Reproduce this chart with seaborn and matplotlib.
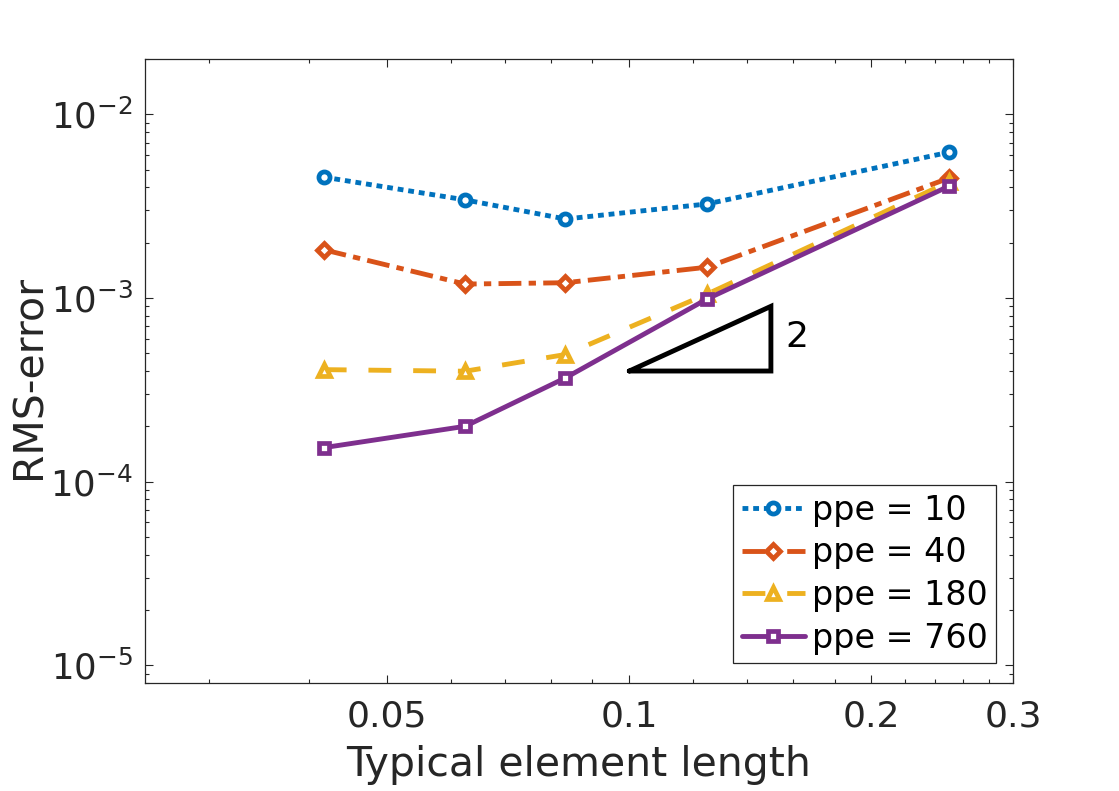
import numpy as np
import pandas as pd
import matplotlib
matplotlib.use("Agg")
import matplotlib.pyplot as plt
import seaborn as sns

# element sizes and RMS errors
h = [0.0417, 0.0625, 0.0833, 0.125, 0.25]
ppe10 = [4.55e-3, 3.42e-3, 2.69e-3, 3.25e-3, 6.22e-3]
ppe40 = [1.83e-3, 1.19e-3, 1.21e-3, 1.47e-3, 4.50e-3]
ppe180 = [4.07e-4, 3.99e-4, 4.92e-4, 1.05e-3, 4.29e-3]
ppe760 = [1.53e-4, 2.00e-4, 3.67e-4, 9.88e-4, 4.07e-3]
labels = ['ppe = 10', 'ppe = 40', 'ppe = 180', 'ppe = 760']

# slope-2 reference triangle
tri_x = [0.1, 0.15, 0.15, 0.1]
tri_y = [4e-4, 4e-4, 9e-4, 4e-4]

colors = ['#0072BD', '#D95319', '#EDB120', '#7E2F8E']
markers = ['o', 'D', '^', 's']
msizes = [8, 7, 8, 7.5]
dashes = [(1.2, 1.0), (4.7, 1.5, 1.5, 1.5), (4.7, 4.5), None]

sns.set_style('ticks')
plt.rcParams['font.family'] = ['DejaVu Sans']
plt.rcParams['axes.unicode_minus'] = False

fig = plt.figure(figsize=(11.19, 7.91), dpi=100)
ax = fig.add_axes([0.1296, 0.1365, 0.9053 - 0.1296, 0.9254 - 0.1365])
ax.set_xscale('log')
ax.set_yscale('log')

for vals, lab, c, m, ms, d in zip([ppe10, ppe40, ppe180, ppe760], labels, colors, markers, msizes, dashes):
    df = pd.DataFrame({'h': h, 'err': vals})
    kw = {}
    if d is not None:
        kw['linestyle'] = (0, d)
    sns.lineplot(data=df, x='h', y='err', ax=ax, color=c, lw=3.5, label=lab,
                 marker=m, markersize=ms, markeredgewidth=3.4, markeredgecolor=c,
                 markerfacecolor='white', dash_capstyle='butt', **kw)

ax.plot(tri_x, tri_y, color='black', lw=3.5, solid_joinstyle='miter')
ax.text(0.1615, 6.1e-4, '2', fontsize=26, ha='center', va='center', color='black')

ax.set_xlim(0.025, 0.3)
ax.set_ylim(8e-6, 2e-2)
ax.set_xticks([0.05, 0.1, 0.2, 0.3])
ax.set_xticklabels(['0.05', '0.1', '0.2', '0.3'])
ax.set_xticks([0.03, 0.04, 0.06, 0.07, 0.08, 0.09, 0.12, 0.14, 0.16, 0.18,
               0.22, 0.24, 0.26, 0.28], minor=True)
ax.set_xticklabels([], minor=True)
ax.set_yticks([1e-5, 1e-4, 1e-3, 1e-2])
ax.set_yticklabels([r'$\mathregular{10^{-5}}$', r'$\mathregular{10^{-4}}$',
                    r'$\mathregular{10^{-3}}$', r'$\mathregular{10^{-2}}$'])

ax.tick_params(which='both', direction='in', top=True, right=True,
               colors='#262626', width=0.8)
ax.tick_params(which='major', length=6)
ax.tick_params(which='minor', length=3)
ax.tick_params(axis='x', which='major', pad=12, labelsize=26)
ax.tick_params(axis='y', which='major', pad=9, labelsize=25.5)
for s in ax.spines.values():
    s.set_color('#262626')
    s.set_linewidth(0.9)

ax.set_xlabel('Typical element length', fontsize=29.5, color='#262626', labelpad=8)
ax.set_ylabel('RMS-error', fontsize=29.5, color='#262626')
ax.yaxis.set_label_coords(-0.1336, 0.49)
ax.yaxis.label.set_va('center')

leg = ax.legend(loc='lower right', bbox_to_anchor=(0.9804, 0.032), borderaxespad=0,
                fontsize=24, fancybox=False, framealpha=1, edgecolor='#262626',
                handlelength=1.9, handletextpad=0.2, labelspacing=0.29, borderpad=0.25)
leg.get_frame().set_linewidth(0.9)
for t in leg.get_texts():
    t.set_color('black')

fig.savefig('out.png', dpi=100, facecolor='white')
